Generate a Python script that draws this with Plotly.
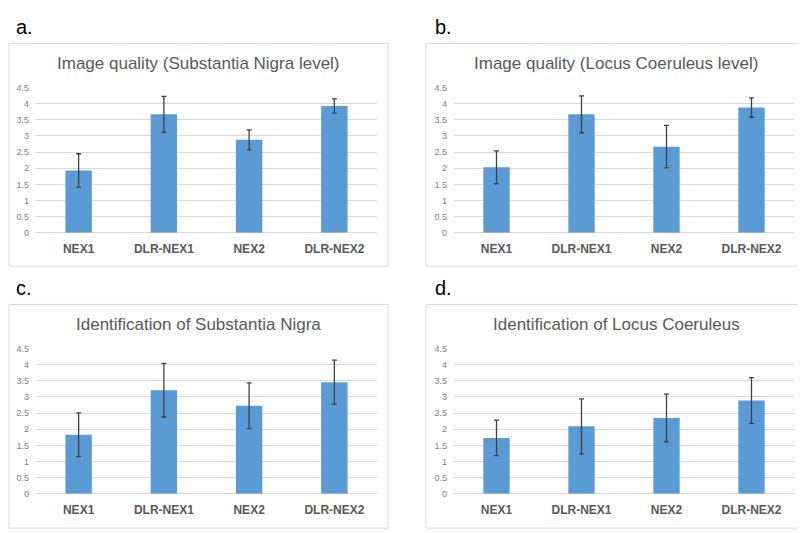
import plotly.graph_objects as go

W, H = 806, 533
OFF = 8  # page body margin compensation

categories = ["NEX1", "DLR-NEX1", "NEX2", "DLR-NEX2"]
titles = [
    "Image quality (Substantia Nigra level)",
    "Image quality (Locus Coeruleus level)",
    "Identification of Substantia Nigra",
    "Identification of Locus Coeruleus",
]
panel_letters = ["a.", "b.", "c.", "d."]

means_a = [1.93, 3.67, 2.88, 3.93]
errs_a = [0.52, 0.56, 0.31, 0.22]
means_b = [2.03, 3.67, 2.67, 3.88]
errs_b = [0.51, 0.57, 0.66, 0.30]
means_c = [1.83, 3.21, 2.73, 3.46]
errs_c = [0.68, 0.83, 0.71, 0.68]
means_d = [1.73, 2.09, 2.35, 2.89]
errs_d = [0.55, 0.85, 0.74, 0.71]

y_ticks = [0, 0.5, 1, 1.5, 2, 2.5, 3, 3.5, 4, 4.5]

means = [means_a, means_b, means_c, means_d]
errs = [errs_a, errs_b, errs_c, errs_d]

# layout in pixels
plot_boxes = [  # (x0, x1, ytop, ybottom) of plotting area
    (36, 377, 84, 232),
    (454, 794, 84, 232),
    (36, 377, 350, 498),
    (454, 794, 350, 498),
]
frames = [  # chart area borders
    (9, 388, 39, 266),
    (426, 812, 39, 266),
    (9, 388, 305, 533),
    (426, 812, 305, 533),
]
title_y = [59, 59, 325, 325]
letter_pos = [(24, 22), (443, 22), (24, 288), (443, 288)]

def px(x):
    return (x - OFF) / W

def py(y):
    return 1 - (y - OFF) / H

fig = go.Figure()
layout = {}
shapes = []
annotations = []
grey = "#595959"
for i in range(4):
    n = "" if i == 0 else str(i + 1)
    x0, x1, yt, yb = plot_boxes[i]
    fig.add_trace(go.Bar(
        x=categories, y=means[i],
        error_y=dict(type="data", array=errs[i], color="#404040", thickness=1.3, width=2.5),
        marker=dict(color="#5B9BD5", line=dict(width=0)),
        xaxis="x" + n, yaxis="y" + n, showlegend=False,
    ))
    layout["xaxis" + n] = dict(
        domain=[px(x0), px(x1)], anchor="y" + n, showgrid=False, showline=False,
        zeroline=False, ticks="", tickfont=dict(family="Liberation Sans", size=12, color=grey, weight="bold"),
        ticklabelstandoff=7, fixedrange=True,
    )
    layout["yaxis" + n] = dict(
        domain=[py(yb), py(yt)], anchor="x" + n, range=[0, 4.5], tickvals=y_ticks,
        ticktext=[f"{v:g}" for v in y_ticks], showgrid=True, gridcolor="#d9d9d9", gridwidth=1,
        zeroline=True, zerolinecolor="#d9d9d9", zerolinewidth=1, showline=False, ticks="",
        tickfont=dict(family="Liberation Sans", size=9, color="#7f7f7f"), ticklabelstandoff=6,
        fixedrange=True,
    )
    fx0, fx1, fy0, fy1 = frames[i]
    shapes.append(dict(type="rect", xref="paper", yref="paper", x0=px(fx0), x1=px(fx1),
                       y0=py(fy1), y1=py(fy0), line=dict(color="#d9d9d9", width=1),
                       fillcolor="rgba(0,0,0,0)", layer="below"))
    annotations.append(dict(text=titles[i], xref="paper", yref="paper", x=px((fx0 + min(fx1, 806)) / 2),
                            y=py(title_y[i]), xanchor="center", yanchor="middle", showarrow=False,
                            font=dict(family="Liberation Sans", size=17, color=grey)))
    lx, ly = letter_pos[i]
    annotations.append(dict(text=panel_letters[i], xref="paper", yref="paper", x=px(lx),
                            y=py(ly), xanchor="center", yanchor="middle", showarrow=False,
                            font=dict(family="Liberation Sans", size=20, color="#000000")))

fig.update_layout(
    width=W, height=H, margin=dict(l=0, r=0, t=0, b=0),
    paper_bgcolor="white", plot_bgcolor="white", bargap=0.69,
    shapes=shapes, annotations=annotations, **layout,
)
fig.write_html("out.html")
